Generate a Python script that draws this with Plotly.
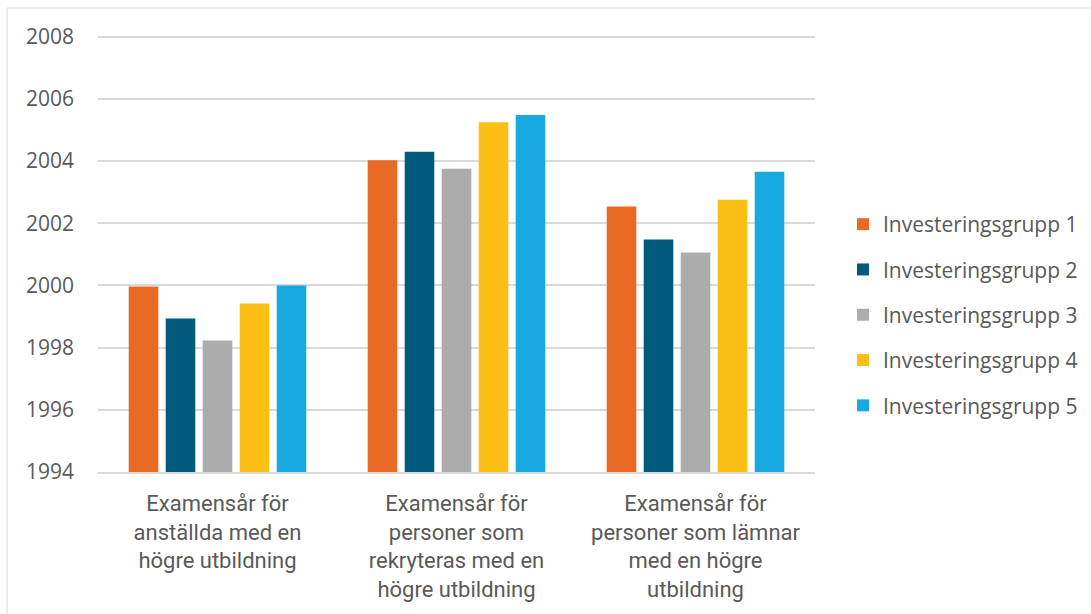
import plotly.graph_objects as go

categories = [
    "Examensår för<br>anställda med en<br>högre utbildning",
    "Examensår för<br>personer som<br>rekryteras med en<br>högre utbildning",
    "Examensår för<br>personer som lämnar<br>med en högre<br>utbildning",
]
series_names = [
    "Investeringsgrupp 1",
    "Investeringsgrupp 2",
    "Investeringsgrupp 3",
    "Investeringsgrupp 4",
    "Investeringsgrupp 5",
]
grupp1 = [1999.97, 2004.03, 2002.54]
grupp2 = [1998.94, 2004.30, 2001.48]
grupp3 = [1998.23, 2003.75, 2001.06]
grupp4 = [1999.42, 2005.25, 2002.76]
grupp5 = [2000.00, 2005.48, 2003.66]
y_ticks = [1994, 1996, 1998, 2000, 2002, 2004, 2006, 2008]

colors = ["#E86A24", "#005A7C", "#ACACAC", "#FBBE14", "#16AAE1"]
base = 1994

fig = go.Figure()
for i, (name, vals) in enumerate(zip(series_names, [grupp1, grupp2, grupp3, grupp4, grupp5])):
    fig.add_trace(go.Bar(
        name=name,
        x=categories,
        y=[v - base for v in vals],
        base=base,
        marker=dict(color=colors[i], line=dict(width=0)),
        legendgroup=f"g{i}",
        hovertemplate="%{x}: %{customdata}<extra></extra>",
        customdata=vals,
    ))

# Canvas and plot-area geometry (pixels)
W, H = 1091, 614
L, T, B = 98, 33, 142
R_MARGIN = 0
plot_right = 815
pw = W - L - R_MARGIN           # width of the paper area (legend lives inside it)
ph = H - T - B
y_top = 2008.12

fig.update_layout(
    width=W, height=H, autosize=False,
    margin=dict(l=L, r=R_MARGIN, t=T, b=B, pad=0),
    paper_bgcolor="white", plot_bgcolor="white",
    barmode="group", bargap=0.226, bargroupgap=0.2,
    font=dict(family="Open Sans, Liberation Sans, sans-serif", color="#595959", size=20),
    legend=dict(
        x=1.0 - 8 / pw, y=(T + ph - 315) / ph, xanchor="right", yanchor="middle",
        font=dict(size=21, color="#595959"),
        tracegroupgap=15, itemwidth=30, bgcolor="rgba(0,0,0,0)",
    ),
    xaxis=dict(
        domain=[0, (plot_right - L) / pw],
        showgrid=False, showline=True, linecolor="#D9D9D9", linewidth=1.5,
        ticks="", tickfont=dict(family="Roboto, sans-serif", size=22, color="#595959"),
        ticklabelstandoff=11,
    ),
    yaxis=dict(
        range=[1994, y_top], tickvals=y_ticks, ticktext=[str(t) for t in y_ticks],
        showgrid=True, gridcolor="#D9D9D9", gridwidth=1.5, zeroline=False,
        showline=False, ticks="", ticklabelstandoff=23,
        tickfont=dict(size=21, color="#595959"),
    ),
    shapes=[dict(
        type="rect", xref="paper", yref="paper",
        x0=(7 - L) / pw, x1=(W + 20 - L) / pw,
        y0=(T + ph - (H + 20)) / ph, y1=(T + ph - 8) / ph,
        line=dict(color="#D9D9D9", width=1), fillcolor="rgba(0,0,0,0)", layer="below",
    )],
)

fig.write_html("out.html")
